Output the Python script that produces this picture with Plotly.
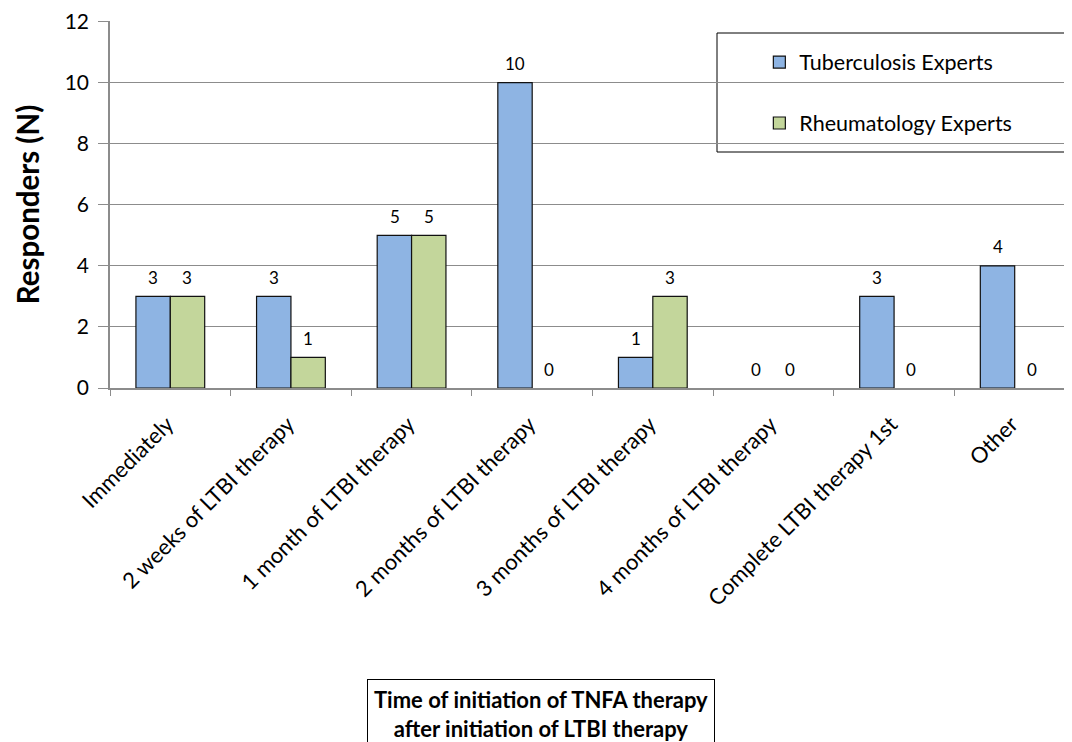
import plotly.graph_objects as go

categories = [
    "Immediately",
    "2 weeks of LTBI therapy",
    "1 month of LTBI therapy",
    "2 months of LTBI therapy",
    "3 months of LTBI therapy",
    "4 months of LTBI therapy",
    "Complete LTBI therapy 1st",
    "Other",
]
tb_experts = [3, 3, 5, 10, 1, 0, 3, 4]
rheum_experts = [3, 1, 5, 0, 3, 0, 0, 0]
y_ticks = [0, 2, 4, 6, 8, 10, 12]

FONT = "Lato, 'Open Sans', sans-serif"
GRID = "#8c8c8c"

fig = go.Figure()
fig.add_trace(go.Bar(
    x=categories, y=tb_experts, name="Tuberculosis Experts",
    marker=dict(color="#8EB4E3",
                line=dict(color="#111111", width=[1.2 if v else 0 for v in tb_experts])),
    legendgroup="a",
))
fig.add_trace(go.Bar(
    x=categories, y=rheum_experts, name="Rheumatology Experts",
    marker=dict(color="#C3D69B",
                line=dict(color="#111111", width=[1.2 if v else 0 for v in rheum_experts])),
    legendgroup="b",
))

annotations = []
for series, shift in ((tb_experts, -17), (rheum_experts, 17)):
    for c, v in zip(categories, series):
        annotations.append(dict(
            x=c, y=v, xref="x", yref="y", text=str(v), showarrow=False,
            xshift=shift, yshift=19, yanchor="middle",
            font=dict(family=FONT, size=17, color="#000000"),
        ))

annotations.append(dict(
    x=(541 - 110) / 962, y=(388 - 679) / 367, xref="paper", yref="paper",
    xanchor="center", yanchor="top", showarrow=False,
    text="<b>Time of initiation of TNFA therapy<br>after initiation of LTBI therapy</b>",
    font=dict(family=FONT, size=22, color="#000000"),
    bordercolor="#000000", borderwidth=1, borderpad=6, bgcolor="white",
))

# page has an 8px body margin, so the figure is sized to fit the window
fig.update_layout(
    width=1064, height=734,
    margin=dict(l=102, r=0, t=13, b=354),
    paper_bgcolor="white", plot_bgcolor="white",
    barmode="group", bargap=0.43, bargroupgap=0,
    font=dict(family=FONT, size=18, color="#000000"),
    showlegend=True,
    legend=dict(
        x=0.675, y=0.944, xanchor="left", yanchor="top",
        bgcolor="rgba(0,0,0,0)", borderwidth=0,
        font=dict(family=FONT, size=21.5, color="#000000"),
        tracegroupgap=30,
    ),
    annotations=annotations,
    shapes=[dict(
        type="rect", xref="paper", yref="paper",
        x0=(717 - 110) / 962, x1=1.01, y0=(388 - 152) / 367, y1=(388 - 33) / 367,
        line=dict(color="#000000", width=1), fillcolor="white", layer="below",
    )],
)

fig.update_xaxes(
    type="category", range=[-0.5, 7.475], automargin=False,
    showline=True, linecolor=GRID, linewidth=1.5,
    ticks="outside", tickson="boundaries", ticklen=6, tickcolor=GRID,
    tickangle=-45, tickfont=dict(family=FONT, size=22),
    ticklabelstandoff=13, ticklabelshift=-3,
    showgrid=False,
)
fig.update_yaxes(
    range=[0, 12.02], tickvals=y_ticks, automargin=False,
    showline=True, linecolor=GRID, linewidth=1.5,
    ticks="outside", ticklen=10, tickcolor=GRID, ticklabelstandoff=5,
    ticklabeloverflow="allow",
    showgrid=True, gridcolor=GRID, gridwidth=1.2,
    tickfont=dict(family=FONT, size=21),
    title=dict(text="<b>Responders (N)</b>", font=dict(family=FONT, size=29.5), standoff=16),
    zeroline=False,
)

fig.write_html("out.html")
